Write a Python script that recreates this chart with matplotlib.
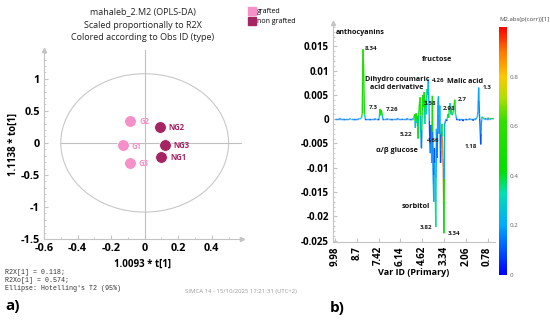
import numpy as np
import matplotlib
matplotlib.use("Agg")
import matplotlib.pyplot as plt
from matplotlib.collections import LineCollection
from matplotlib.colors import LinearSegmentedColormap, Normalize
from matplotlib.patches import Ellipse
from matplotlib.lines import Line2D

plt.rcParams['font.family'] = ['Open Sans', 'DejaVu Sans']

# ---------------- data: score plot (a) ----------------
obs_names = ["G1", "G2", "G3", "NG1", "NG2", "NG3"]
obs_group = ["grafted", "grafted", "grafted", "non grafted", "non grafted", "non grafted"]
t1 = [-0.13, -0.085, -0.09, 0.10, 0.09, 0.12]
to1 = [-0.04, 0.34, -0.31, -0.22, 0.25, -0.03]
group_colors = {"grafted": "#f590c8", "non grafted": "#a52462"}
ell_rx, ell_ry = 0.50, 1.08
x_ticks_a = [-0.6, -0.4, -0.2, 0, 0.2, 0.4]
y_ticks_a = [-1.5, -1, -0.5, 0, 0.5, 1]

# ---------------- data: loading line plot (b) ----------------
var_ppm_full = np.round(9.98 - 0.04 * np.arange(240), 2)
keep = ~((var_ppm_full > 4.76) & (var_ppm_full < 5.0))
var_ppm = var_ppm_full[keep]

feat_ppm = [9.70, 9.42, 9.10, 8.82, 8.58, 8.46, 8.42, 8.38, 8.34, 8.30, 8.26, 8.22, 8.18,
            7.90, 7.62, 7.42, 7.38, 7.34, 7.30, 7.26, 7.22, 7.18, 7.14,
            6.90, 6.62, 6.30, 6.02, 5.74, 5.50,
            5.38, 5.34, 5.30, 5.26, 5.22, 5.18, 5.14, 5.10, 5.06, 5.02,
            4.74, 4.70, 4.66, 4.62, 4.58, 4.54, 4.50, 4.46, 4.42, 4.38, 4.34, 4.30,
            4.26, 4.22, 4.18, 4.14, 4.10, 4.06, 4.02, 3.98, 3.94, 3.90, 3.86, 3.82,
            3.78, 3.74, 3.70, 3.66, 3.62, 3.58, 3.54, 3.50, 3.46, 3.42, 3.38, 3.34,
            3.30, 3.26, 3.22, 3.18, 3.14, 3.10, 3.06, 3.02, 2.98, 2.94, 2.90, 2.86,
            2.82, 2.78, 2.74, 2.70, 2.66, 2.62, 2.58,
            2.42, 2.22, 2.02, 1.82, 1.62, 1.50,
            1.42, 1.38, 1.34, 1.30, 1.26, 1.22, 1.18, 1.14, 1.10, 1.06, 1.02,
            0.90, 0.74, 0.58, 0.46]
feat_val = [0.0002, -0.0002, 0.0001, -0.0002, 0.0001, 0.0002, 0.0004, 0.0012, 0.0144, 0.0106, 0.0015, 0.0004, -0.0002,
            -0.0002, 0.0001, -0.0002, 0.0003, 0.0021, 0.0008, 0.0019, 0.0012, 0.0002, -0.0002,
            0.0001, -0.0002, 0.0002, -0.0001, 0.0002, -0.0002,
            0.0002, 0.0004, 0.0010, -0.0018, 0.0012, -0.0008, 0.0006, -0.0040, 0.0010, 0.0032,
            0.0045, -0.0030, -0.0060, 0.0015, 0.0050, 0.0025, 0.0056, -0.0010, 0.0040, 0.0010, 0.0062, 0.0050,
            0.0082, 0.0030, -0.0035, -0.0070, -0.0012, -0.0090, 0.0048, -0.0100, -0.0170, -0.0060, -0.0120, -0.0222,
            -0.0020, -0.0080, 0.0030, 0.0047, -0.0030, 0.0028, -0.0090, -0.0040, -0.0010, -0.0062, -0.0100, -0.0235,
            -0.0010, -0.0005, 0.0000, -0.0004, 0.0002, 0.0010, 0.0003, 0.0025, 0.0033, 0.0010, 0.0020, 0.0008,
            0.0012, 0.0015, 0.0030, 0.0040, 0.0010, 0.0005, -0.0002,
            -0.0003, -0.0004, -0.0002, 0.0001, -0.0003, 0.0001,
            0.0002, 0.0005, 0.0015, 0.0065, 0.0012, -0.0010, -0.0052, -0.0008, 0.0005, 0.0003, 0.0002,
            0.0002, 0.0003, 0.0002, 0.0002]
feat_corr = [0.2, 0.15, 0.2, 0.15, 0.2, 0.3, 0.45, 0.5, 0.55, 0.5, 0.45, 0.3, 0.1,
             0.1, 0.15, 0.1, 0.3, 0.5, 0.4, 0.5, 0.45, 0.2, 0.1,
             0.15, 0.1, 0.2, 0.1, 0.2, 0.15,
             0.2, 0.3, 0.5, 0.25, 0.45, 0.3, 0.45, 0.5, 0.4, 0.5,
             0.55, 0.2, 0.15, 0.45, 0.5, 0.4, 0.5, 0.3, 0.45, 0.3, 0.35, 0.25,
             0.25, 0.2, 0.1, 0.15, 0.1, 0.2, 0.5, 0.15, 0.2, 0.1, 0.25, 0.35,
             0.2, 0.15, 0.2, 0.2, 0.15, 0.25, 0.1, 0.15, 0.55, 0.88, 0.92, 0.45,
             0.2, 0.15, 0.2, 0.1, 0.3, 0.5, 0.4, 0.55, 0.3, 0.3, 0.4, 0.3,
             0.5, 0.55, 0.5, 0.55, 0.35, 0.2, 0.1,
             0.1, 0.05, 0.1, 0.15, 0.1, 0.2,
             0.2, 0.25, 0.2, 0.2, 0.15, 0.1, 0.1, 0.2, 0.3, 0.45, 0.45,
             0.4, 0.45, 0.45, 0.4]
baseline_corr = 0.15

x_tick_labels_b = ["9.98", "8.7", "7.42", "6.14", "4.62", "3.34", "2.06", "0.78"]
y_ticks_b = [-0.025, -0.02, -0.015, -0.01, -0.005, 0, 0.005, 0.01, 0.015]
y_ticklabels_b = ["-0.025", "-0.02", "-0.015", "-0.01", "-0.005", "0", "0.005", "0.01", "0.015"]

peak_labels = ["8.34", "7.3", "7.26", "5.22", "4.66", "4.26", "3.58", "2.98", "2.7", "1.3", "1.18", "3.82", "3.34"]
peak_label_pos = [(44, 0.0146), (50, 0.0023), (75, 0.0019), (95.5, -0.0031), (135, -0.0045),
                  (142.4, 0.0080), (130.7, 0.0033), (158.6, 0.0021), (180.6, 0.0041),
                  (217, 0.0066), (191, -0.0056), (124.8, -0.0224), (166, -0.0235)]
compound_labels = ["anthocyanins", "fructose", "Dihydro coumaric\nacid derivative", "Malic acid",
                   "α/β glucose", "sorbitol"]
compound_pos = [(1.5, 0.0179, 'left'), (150, 0.0122, 'center'), (91, 0.0073, 'center'),
                (191, 0.0078, 'center'), (91, -0.0064, 'center'), (119, -0.0179, 'center')]

# ---------------- figure ----------------
fig = plt.figure(figsize=(5.5, 3.21), dpi=100)
spine_col = "#c4c4c4"

# ---- panel a ----
axa = fig.add_axes([44 / 550, 1 - 239 / 321, 198 / 550, 189 / 321])
axa.set_xlim(-0.6, 0.58)
axa.set_ylim(-1.5, 1.45)
for s in ["top", "right"]:
    axa.spines[s].set_visible(False)
for s in ["left", "bottom"]:
    axa.spines[s].set_color(spine_col)
    axa.spines[s].set_linewidth(0.8)
axa.plot(1, 0, ">", transform=axa.transAxes, color=spine_col, ms=3, clip_on=False)
axa.plot(0, 1, "^", transform=axa.transAxes, color=spine_col, ms=3, clip_on=False)
axa.set_xticks(x_ticks_a)
axa.set_xticklabels(["-0.6", "-0.4", "-0.2", "0", "0.2", "0.4"])
axa.set_yticks(y_ticks_a)
axa.set_yticklabels(["-1.5", "-1", "-0.5", "0", "0.5", "1"])
axa.set_xticks(np.arange(-0.6, 0.55, 0.1), minor=True)
axa.set_yticks(np.arange(-1.5, 1.45, 0.1), minor=True)
axa.tick_params(axis="both", which="major", labelsize=7.8, length=3, color=spine_col, direction="in", pad=3)
axa.tick_params(axis="both", which="minor", length=1.5, color=spine_col, direction="in")
for lab in axa.get_xticklabels() + axa.get_yticklabels():
    lab.set_fontweight("bold")
axa.set_xlabel("1.0093 * t[1]", fontsize=7, fontweight="bold", labelpad=3)
axa.set_ylabel("1.1138 * to[1]", fontsize=7, fontweight="bold", labelpad=1)

axa.add_patch(Ellipse((0, 0), 2 * ell_rx, 2 * ell_ry, fill=False, ec="#c8c8c8", lw=0.8))
axa.plot([-ell_rx, 0.58], [0, 0], color="#c0c0c0", lw=0.8)
axa.axvline(0, color="#c0c0c0", lw=0.8)

for name, g, x, y in zip(obs_names, obs_group, t1, to1):
    c = group_colors[g]
    axa.scatter([x], [y], s=72, color=c, edgecolor="white", linewidth=0.6, zorder=3)
    axa.annotate(name, (x, y), xytext=(6.5, -0.5), textcoords="offset points", fontsize=5.5,
                 fontweight="bold", color=c, va="center", ha="left")

fig.text(143 / 550, 1 - 12 / 321, "mahaleb_2.M2 (OPLS-DA)", ha="center", va="center", fontsize=6.5, color="#222222")
fig.text(143 / 550, 1 - 25 / 321, "Scaled proportionally to R2X", ha="center", va="center", fontsize=6.5, color="#222222")
fig.text(143 / 550, 1 - 38 / 321, "Colored according to Obs ID (type)", ha="center", va="center", fontsize=6.5, color="#222222")

handles = [Line2D([], [], marker="s", ls="", ms=6, color=group_colors[g]) for g in ["grafted", "non grafted"]]
fig.legend(handles, ["grafted", "non grafted"], loc="upper left", bbox_to_anchor=(244 / 550, 1 - 4 / 321),
           frameon=False, fontsize=5, handlelength=1.0, handletextpad=0.3, labelspacing=0.4, borderpad=0.1)

mono = ["Liberation Mono", "DejaVu Sans Mono"]
fig.text(5 / 550, 1 - 273 / 321, "R2X[1] = 0.118;", family=mono, fontsize=4.8, va="center", color="#333333")
fig.text(5 / 550, 1 - 280.5 / 321, "R2Xo[1] = 0.574;", family=mono, fontsize=4.8, va="center", color="#333333")
fig.text(5 / 550, 1 - 288 / 321, "Ellipse: Hotelling's T2 (95%)", family=mono, fontsize=4.8, va="center", color="#333333")
fig.text(185 / 550, 1 - 292 / 321, "SIMCA 14 - 15/10/2025 17:21:31 (UTC+2)", fontsize=4.3, va="center", color="#9a9a9a")
fig.text(5 / 550, 1 - 306 / 321, "a)", fontsize=11, fontweight="bold", va="center")
fig.text(330 / 550, 1 - 308 / 321, "b)", fontsize=11, fontweight="bold", va="center")

# ---- panel b ----
simca_cmap = LinearSegmentedColormap.from_list(
    "simca", [(0.0, "#0000ff"), (0.2, "#00aaff"), (0.33, "#00e0b0"), (0.42, "#00e000"),
              (0.62, "#30e000"), (0.72, "#b0e000"), (0.8, "#ffc800"), (0.9, "#ff7800"), (1.0, "#ff0000")])
norm = Normalize(0, 1)

fmap = {round(p, 2): (v, c) for p, v, c in zip(feat_ppm, feat_val, feat_corr)}
loading = np.array([fmap.get(round(p, 2), (0.0, baseline_corr))[0] for p in var_ppm])
corr = np.array([fmap.get(round(p, 2), (0.0, baseline_corr))[1] for p in var_ppm])
idx = np.arange(len(var_ppm))

axb = fig.add_axes([333 / 550, 1 - 242 / 321, 162 / 550, 219 / 321])
axb.set_xlim(-3, 235)
axb.set_ylim(-0.0253, 0.0198)
segs, cols = [], []
for i in range(len(idx) - 1):
    xm = (idx[i] + idx[i + 1]) / 2
    ym = (loading[i] + loading[i + 1]) / 2
    segs.append([(idx[i], loading[i]), (xm, ym)])
    cols.append(simca_cmap(norm(corr[i])))
    segs.append([(xm, ym), (idx[i + 1], loading[i + 1])])
    cols.append(simca_cmap(norm(corr[i + 1])))
axb.add_collection(LineCollection(segs, colors=cols, linewidths=1.0, capstyle="butt"))

for s in ["top", "right"]:
    axb.spines[s].set_visible(False)
for s in ["left", "bottom"]:
    axb.spines[s].set_color(spine_col)
    axb.spines[s].set_linewidth(0.8)
axb.plot(0, 1, "^", transform=axb.transAxes, color=spine_col, ms=3, clip_on=False)
tick_idx = [int(np.where(np.isclose(var_ppm, float(t)))[0][0]) for t in x_tick_labels_b]
axb.set_xticks(tick_idx)
axb.set_xticklabels(x_tick_labels_b, rotation=90)
axb.set_yticks(y_ticks_b)
axb.set_yticklabels(y_ticklabels_b)
axb.set_yticks(np.arange(-0.025, 0.0199, 0.001), minor=True)
axb.tick_params(axis="both", which="major", labelsize=7, length=3, color=spine_col, direction="in", pad=3)
axb.tick_params(axis="y", which="minor", length=1.5, color=spine_col, direction="in")
for lab in axb.get_xticklabels() + axb.get_yticklabels():
    lab.set_fontweight("bold")
axb.set_xlabel("Var ID (Primary)", fontsize=6.5, fontweight="bold", labelpad=2)

for t, (x, y) in zip(peak_labels, peak_label_pos):
    axb.text(x, y, t, fontsize=4.5, fontweight="bold", ha="left", va="center", color="#222222")
for t, (x, y, ha) in zip(compound_labels, compound_pos):
    axb.text(x, y, t, fontsize=5.2, fontweight="bold", ha=ha, va="center", color="#111111", linespacing=1.2)

# colorbar
cax = fig.add_axes([499 / 550, 1 - 275 / 321, 8 / 550, 248 / 321])
cb = fig.colorbar(plt.cm.ScalarMappable(norm=norm, cmap=simca_cmap), cax=cax)
cb.outline.set_visible(False)
cb.set_ticks([0, 0.2, 0.4, 0.6, 0.8])
cb.set_ticklabels(["0", "0.2", "0.4", "0.6", "0.8"])
cax.tick_params(labelsize=4.5, length=0, pad=2, labelcolor="#666666")
fig.text(499 / 550, 1 - 20 / 321, "M2.abs(p(corr))[1]", fontsize=4.3, va="center", color="#444444")

fig.savefig("out.png", dpi=100)
